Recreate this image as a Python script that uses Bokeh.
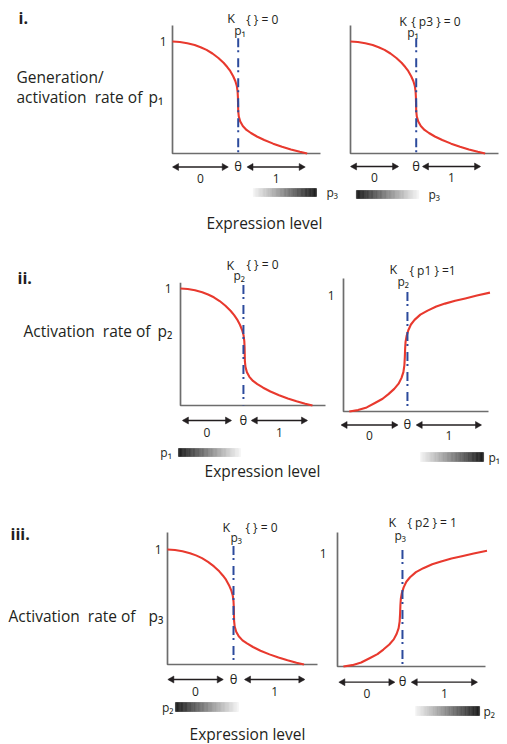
import numpy as np
from bokeh.plotting import figure
from bokeh.models import Range1d
from bokeh.core.properties import value
from bokeh.embed import file_html
from bokeh.resources import INLINE

# ---------------- data (normalised: x 0..1 along the x axis, y 0..1 up to level "1") -------------
dec_x = [0.000, 0.05, 0.10, 0.15, 0.19, 0.23, 0.27, 0.31, 0.345, 0.37, 0.39, 0.41, 0.425, 0.435,
         0.440, 0.442, 0.443, 0.444, 0.448, 0.458, 0.475, 0.50, 0.53, 0.57, 0.62, 0.68, 0.74,
         0.80, 0.86, 0.91]
dec_y = [1.000, 0.996, 0.985, 0.968, 0.949, 0.925, 0.893, 0.853, 0.81, 0.772, 0.737, 0.69, 0.645,
         0.600, 0.55, 0.50, 0.44, 0.38, 0.33, 0.285, 0.245, 0.21, 0.183, 0.152, 0.12, 0.088, 0.06,
         0.036, 0.015, 0.0]

inc_x = [0.04, 0.10, 0.16, 0.22, 0.27, 0.31, 0.35, 0.38, 0.40, 0.413, 0.42, 0.423, 0.425, 0.428,
         0.435, 0.447, 0.465, 0.49, 0.53, 0.58, 0.64, 0.70, 0.77, 0.84, 0.92, 1.01]
inc_y = [0.0, 0.012, 0.035, 0.075, 0.11, 0.15, 0.195, 0.24, 0.29, 0.34, 0.40, 0.47, 0.54, 0.60,
         0.65, 0.70, 0.75, 0.79, 0.835, 0.87, 0.905, 0.93, 0.955, 0.975, 1.0, 1.025]

panel_kind = ["dec", "dec", "dec", "inc", "dec", "inc"]
theta_pos = [0.444, 0.444, 0.434, 0.441, 0.440, 0.439]
k_sub = ["p\u2081", "p\u2081", "p\u2082", "p\u2082", "p\u2083", "p\u2083"]
k_rest = ["{ } = 0", "{ p3 } = 0", "{ } = 0", "{ p1 } =1", "{ } = 0", "{ p2 } = 1"]
grad_label = ["p\u2083", "p\u2083", "p\u2081", "p\u2081", "p\u2082", "p\u2082"]
grad_dir = ["light_dark", "dark_light", "dark_light", "light_dark", "dark_light", "light_dark"]
zone_labels = ["0", "1"]
theta_label = "\u03b8"
row_numbers = ["i.", "ii.", "iii."]
row_text_1 = ["Generation/", "", ""]
row_text_2 = ["activation\u00a0 rate of", "Activation\u00a0 rate of", "Activation\u00a0 rate of"]
row_sub = ["p\u2081", "p\u2082", "p\u2083"]
x_title = "Expression level"

# ---------------- layout (page pixel positions) ----------------
panels = [
    dict(X0=172, Y0=153, W=148, H=112, top=1.143, one_dx=-6,
         arrows=(0.007, 0.37, 0.51, 0.89), arr_off=13.5, lab_off=25,
         grad=(0.547, 0.973), grad_off=(35, 43), glab_x=1.04, glab_align="left",
         k=((-11, -6.5), (-4, 5), (8, -6))),
    dict(X0=350, Y0=153, W=148, H=112, top=1.143, one_dx=None,
         arrows=(0.007, 0.318, 0.493, 0.872), arr_off=13, lab_off=24,
         grad=(0.04, 0.46), grad_off=(37, 45), glab_x=0.527, glab_align="left",
         k=((-17, -4.3), (-9, 6.7), (-5, -4))),
    dict(X0=180, Y0=405, W=145, H=117, top=1.05, one_dx=-9,
         arrows=(0.02, 0.345, 0.495, 0.869), arr_off=15, lab_off=27,
         grad=(-0.014, 0.414), grad_off=(43, 51), glab_x=-0.06, glab_align="right",
         k=((-17, -17), (-10, -7), (3, -18))),
    dict(X0=343, Y0=411, W=145, H=116, top=1.147, one_dx=-9,
         arrows=(-0.01, 0.369, 0.508, 0.945), arr_off=13.5, lab_off=24,
         grad=(0.531, 0.966), grad_off=(41, 50), glab_x=1.0, glab_align="left",
         k=((-18, -9), (-10, 2.7), (2, -8))),
    dict(X0=167, Y0=664, W=150, H=115, top=1.148, one_dx=-6,
         arrows=(0.009, 0.365, 0.52, 0.909), arr_off=15, lab_off=27,
         grad=(0.053, 0.473), grad_off=(38, 47), glab_x=0.04, glab_align="right",
         k=((-11, -5), (-3, 5), (12, -5))),
    dict(X0=337, Y0=666, W=148, H=113, top=1.186, one_dx=-11,
         arrows=(0.016, 0.381, 0.505, 0.939), arr_off=15.7, lab_off=27,
         grad=(0.527, 0.96), grad_off=(40, 49), glab_x=0.986, glab_align="left",
         k=((-14, -10), (-8, 3), (5, -10))),
]

FONT = value("Open Sans")
RED = "#e8392e"
BLUE = "#2c4a9c"
AXIS = "#6d6d6d"
INK = "#231f20"

p = figure(width=506, height=743, x_range=Range1d(0, 506), y_range=Range1d(743, 0),
           x_axis_location=None, y_axis_location=None, output_backend="svg",
           toolbar_location=None, min_border=0)
p.outline_line_color = None
p.grid.visible = False
p.background_fill_color = "white"
p.border_fill_color = "white"

for i, pn in enumerate(panels):
    W, H, th = pn["W"], pn["H"], theta_pos[i]
    sub = p.subplot(x_source=Range1d(0, 1), y_source=Range1d(0, 1),
                    x_target=Range1d(pn["X0"], pn["X0"] + W),
                    y_target=Range1d(pn["Y0"], pn["Y0"] - H))
    # axes
    sub.line([0, 0, 1], [pn["top"], 0, 0], line_color=AXIS, line_width=1.7)
    # curve
    cx, cy = (dec_x, dec_y) if panel_kind[i] == "dec" else (inc_x, inc_y)
    sub.line(cx, cy, line_color=RED, line_width=2.1, line_join="round")
    # threshold line
    sub.line([th, th], [1.03, 0], line_color=BLUE, line_width=2, line_dash="9 3 2 6")
    # "1" level label
    if pn["one_dx"] is not None:
        sub.text(x=[0], y=[1], text=["1"], x_offset=pn["one_dx"], text_align="right",
                 text_baseline="middle", text_font=FONT, text_font_size="12px", text_color=INK)
    # double arrows
    l0, l1, r0, r1 = pn["arrows"]
    ay = -pn["arr_off"] / H
    sub.segment(x0=[l0, r0], y0=[ay, ay], x1=[l1, r1], y1=[ay, ay], line_color=INK, line_width=1.3)
    hs = 3.0 / W
    sub.scatter(x=[l0 + hs, l1 - hs, r0 + hs, r1 - hs], y=[ay] * 4, marker="triangle", size=7,
                angle=[np.pi / 2, -np.pi / 2, np.pi / 2, -np.pi / 2],
                fill_color=INK, line_color=INK, line_width=0.5)
    ly = -pn["lab_off"] / H
    sub.text(x=[(l0 + l1) / 2, (r0 + r1) / 2], y=[ly, ly], text=zone_labels, text_align="center",
             text_baseline="middle", text_font=FONT, text_font_size="12px", text_color=INK)
    sub.text(x=[th], y=[ay], text=[theta_label], y_offset=-1, text_align="center",
             text_baseline="middle", text_font=FONT, text_font_size="13px", text_color=INK)
    # gradient bar
    g0, g1 = pn["grad"]
    gt, gb = pn["grad_off"]
    n = 48
    edges = np.linspace(g0, g1, n + 1)
    t = np.linspace(0, 1, n)
    if grad_dir[i] == "light_dark":
        t = 1 - t
    shade = (30 + (244 - 30) * t).astype(int)
    cols = ["#%02x%02x%02x" % (v, v, v) for v in shade]
    sub.quad(left=edges[:-1], right=edges[1:], top=-gt / H, bottom=-gb / H,
             fill_color=cols, line_color=cols, line_width=0.6)
    sub.text(x=[pn["glab_x"]], y=[-(gt + gb) / 2 / H], text=[grad_label[i]],
             text_align=pn["glab_align"], text_baseline="middle", text_font=FONT,
             text_font_size="12px", text_color=INK)
    # K label
    (kdx, kdy), (sdx, sdy), (rdx, rdy) = pn["k"]
    top = pn["top"]
    sub.text(x=[th], y=[top], text=["K"], x_offset=kdx, y_offset=kdy, text_align="left",
             text_baseline="alphabetic", text_font=FONT, text_font_size="12.5px", text_color=INK)
    sub.text(x=[th], y=[top], text=[k_sub[i]], x_offset=sdx, y_offset=sdy, text_align="left",
             text_baseline="alphabetic", text_font=FONT, text_font_size="12px", text_color=INK)
    sub.text(x=[th], y=[top], text=[k_rest[i]], x_offset=rdx, y_offset=rdy, text_align="left",
             text_baseline="alphabetic", text_font=FONT, text_font_size="12px", text_color=INK)

# ---------------- row labels ----------------
p.text(x=[18, 17, 10], y=[17, 277, 533], text=row_numbers, text_font=FONT,
       text_font_style="bold", text_font_size="16px", text_color=INK,
       text_baseline="alphabetic", text_align="left")
p.text(x=[16], y=[76], text=[row_text_1[0]], text_font=FONT, text_font_size="15.5px",
       text_color=INK, text_baseline="alphabetic", text_align="left")
p.text(x=[16, 23, 8], y=[96, 330, 615], text=row_text_2, text_font=FONT, text_font_size="15.5px",
       text_color=INK, text_baseline="alphabetic", text_align="left")
p.text(x=[148, 157, 148], y=[96, 330, 615], text=row_sub, text_font=FONT, text_font_size="15.5px",
       text_color=INK, text_baseline="alphabetic", text_align="left")
p.text(x=[264, 262, 247], y=[222, 470, 733], text=[x_title] * 3, text_font=FONT,
       text_font_size="15.5px", text_color=INK, text_baseline="alphabetic", text_align="center")

open("out.html", "w").write(file_html(p, INLINE))
